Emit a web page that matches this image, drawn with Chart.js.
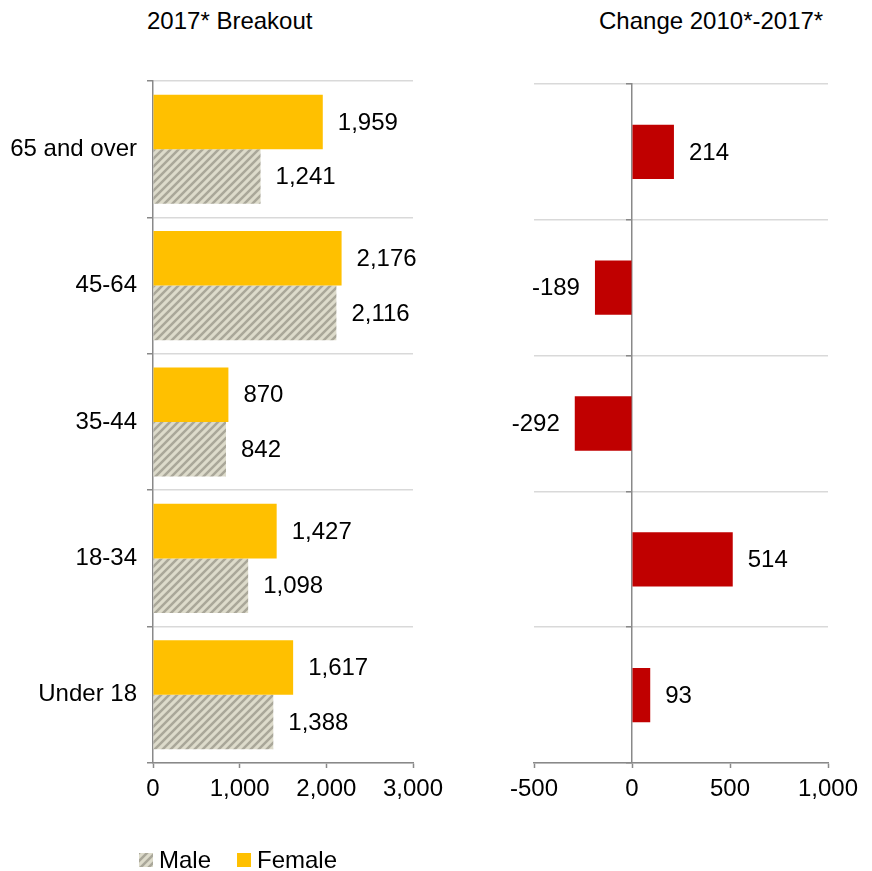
<!DOCTYPE html>
<html lang="en">
<head>
  <meta charset="UTF-8" />
  <title>Population by Age Group</title>
  <script src="https://cdn.jsdelivr.net/npm/chart.js"></script>
  <style>
    body {
      margin: 0;
      background: #fff;
      font-family: "Liberation Sans", Arial, sans-serif;
    }

    .page {
      position: relative;
      width: 872px;
      height: 871px;
    }

    .panel-title {
      position: absolute;
      top: 7px;
      font-size: 24px;
      line-height: 28px;
      color: #000;
      white-space: nowrap;
    }

    #breakoutChart {
      position: absolute;
      left: 0;
      top: 0;
    }

    #changeChart {
      position: absolute;
      left: 476px;
      top: 0;
    }
  </style>
</head>

<body>
  <div class="page">
    <div class="panel-title" style="left:147px">2017* Breakout</div>
    <div class="panel-title" style="left:599px">Change 2010*-2017*</div>
    <canvas id="breakoutChart" width="476" height="871"></canvas>
    <canvas id="changeChart" width="396" height="871"></canvas>
  </div>

  <script>
    // Age groups, top to bottom
    const ageGroups = ['65 and over', '45-64', '35-44', '18-34', 'Under 18'];
    const female2017 = [1959, 2176, 870, 1427, 1617];
    const male2017 = [1241, 2116, 842, 1098, 1388];
    const change2010to2017 = [214, -189, -292, 514, 93];

    // axis ranges: [min, max, step]
    const breakoutRange = [0, 3000, 1000];
    const changeRange = [-500, 1000, 500];

    const FONT = { family: '"Liberation Sans", Arial, sans-serif', size: 24 };
    const AXIS_GRAY = '#898989';
    const GRID_GRAY = '#d9d9d9';

    // diagonal stripes for the male bars
    function makeHatch() {
      const c = document.createElement('canvas');
      c.width = 8;
      c.height = 8;
      const g = c.getContext('2d');
      g.fillStyle = '#dddbcb';
      g.fillRect(0, 0, 8, 8);
      g.strokeStyle = '#a9a799';
      g.lineWidth = 2.5;
      g.beginPath();
      g.moveTo(-2, 10); g.lineTo(10, -2);
      g.moveTo(-2, 2); g.lineTo(2, -2);
      g.moveTo(6, 10); g.lineTo(10, 6);
      g.stroke();
      return g.createPattern(c, 'repeat');
    }

    // value printed just past the end of each bar
    const barValueLabels = {
      id: 'barValueLabels',
      afterDatasetsDraw(chart, args, opts) {
        const ctx = chart.ctx;
        ctx.save();
        ctx.font = FONT.size + 'px ' + FONT.family;
        ctx.fillStyle = '#000';
        ctx.textBaseline = 'middle';
        chart.data.datasets.forEach((ds, i) => {
          chart.getDatasetMeta(i).data.forEach((bar, j) => {
            const v = ds.data[j];
            const neg = v < 0;
            ctx.textAlign = neg ? 'right' : 'left';
            ctx.fillText(v.toLocaleString('en-US'), bar.x + (neg ? -opts.gap : opts.gap), bar.y + 1);
          });
        });
        ctx.restore();
      }
    };

    // one-row legend, Male first
    const swatchLegend = {
      id: 'swatchLegend',
      afterDraw(chart, args, opts) {
        const ctx = chart.ctx;
        ctx.save();
        ctx.font = FONT.size + 'px ' + FONT.family;
        ctx.textBaseline = 'middle';
        ctx.textAlign = 'left';
        let x = opts.x;
        const y = opts.y;
        chart.data.datasets.slice().reverse().forEach(ds => {
          ctx.fillStyle = ds.backgroundColor;
          ctx.fillRect(x, y - 7, 14, 14);
          x += 20;
          ctx.fillStyle = '#000';
          ctx.fillText(ds.label, x, y + 1);
          x += ctx.measureText(ds.label).width + 26;
        });
        ctx.restore();
      }
    };

    function valueAxis(range) {
      return {
        min: range[0],
        max: range[1],
        ticks: { stepSize: range[2], color: '#000', font: FONT, padding: 7, maxRotation: 0 },
        grid: { drawOnChartArea: false, tickLength: 5, tickColor: AXIS_GRAY, tickWidth: 1.5 },
        border: { color: AXIS_GRAY, width: 1.5 },
        afterFit(scale) { scale.height = 50; }
      };
    }

    new Chart(document.getElementById('breakoutChart'), {
      type: 'bar',
      data: {
        labels: ageGroups,
        datasets: [
          { label: 'Female', data: female2017, backgroundColor: '#ffc000', categoryPercentage: 0.8, barPercentage: 1 },
          { label: 'Male', data: male2017, backgroundColor: makeHatch(), categoryPercentage: 0.8, barPercentage: 1 }
        ]
      },
      options: {
        indexAxis: 'y',
        responsive: false,
        animation: false,
        layout: { padding: { top: 81, right: 63, bottom: 58, left: 0 } },
        plugins: {
          legend: { display: false },
          tooltip: { enabled: false },
          barValueLabels: { gap: 15 },
          swatchLegend: { x: 139, y: 860 }
        },
        scales: {
          x: valueAxis(breakoutRange),
          y: {
            ticks: { color: '#000', font: FONT, padding: 10 },
            grid: { color: GRID_GRAY, lineWidth: 1.5, tickLength: 6, tickColor: AXIS_GRAY, tickWidth: 1.5 },
            border: { color: AXIS_GRAY, width: 1.5 },
            afterFit(scale) { scale.width = 153; }
          }
        }
      },
      plugins: [barValueLabels, swatchLegend]
    });

    new Chart(document.getElementById('changeChart'), {
      type: 'bar',
      data: {
        labels: ageGroups,
        datasets: [
          { label: 'Change', data: change2010to2017, backgroundColor: '#c00000', categoryPercentage: 0.8, barPercentage: 0.5 }
        ]
      },
      options: {
        indexAxis: 'y',
        responsive: false,
        animation: false,
        layout: { padding: { top: 84, right: 44, bottom: 58, left: 58 } },
        plugins: {
          legend: { display: false },
          tooltip: { enabled: false },
          barValueLabels: { gap: 15 }
        },
        scales: {
          x: valueAxis(changeRange),
          y: {
            position: { x: 0 },
            ticks: { display: false },
            grid: { color: GRID_GRAY, lineWidth: 1.5, tickLength: 5, tickColor: AXIS_GRAY, tickWidth: 1.5 },
            border: { color: AXIS_GRAY, width: 1.5 }
          }
        }
      },
      plugins: [barValueLabels]
    });
  </script>
</body>
</html>
